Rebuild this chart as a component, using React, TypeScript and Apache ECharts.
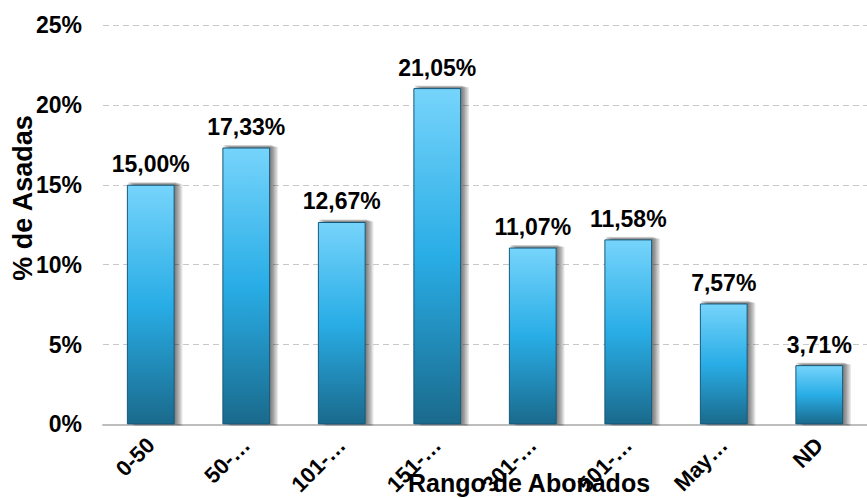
import React, { useEffect, useRef } from "react";
import * as echarts from "echarts";

const categories = ["0-50", "50-…", "101-…", "151-…", "301-…", "501-…", "May…", "ND"];
const values = [15.0, 17.33, 12.67, 21.05, 11.07, 11.58, 7.57, 3.71];
const yTicks = [0, 5, 10, 15, 20, 25];
const xTitle = "Rango de Abonados";
const yTitle = "% de Asadas";

const FONT = "'Liberation Sans', Arial, sans-serif";

export default function App() {
  const ref = useRef<HTMLDivElement>(null);
  useEffect(() => {
    if (!ref.current) return;
    const chart = echarts.init(ref.current, undefined, { renderer: "svg" });
    chart.setOption({
      animation: false,
      backgroundColor: "#ffffff",
      textStyle: { fontFamily: FONT },
      grid: { left: 103, width: 771, top: 25, bottom: 72, containLabel: false },
      xAxis: {
        type: "category",
        data: categories,
        axisLine: { show: true, lineStyle: { color: "#bdbdbd", width: 2 } },
        axisTick: { show: false },
        axisLabel: {
          rotate: 45,
          margin: 17,
          interval: 0,
          color: "#000",
          fontSize: 22,
          fontWeight: "bold",
          fontFamily: FONT,
        },
      },
      yAxis: {
        type: "value",
        min: yTicks[0],
        max: yTicks[yTicks.length - 1],
        interval: 5,
        axisLine: { show: false },
        axisTick: { show: false },
        axisLabel: {
          formatter: "{value}%",
          margin: 21,
          color: "#000",
          fontSize: 23,
          fontWeight: "bold",
          fontFamily: FONT,
        },
        splitLine: { lineStyle: { color: "#c8c8c8", type: [6, 4], width: 1 } },
      },
      series: [
        {
          type: "custom",
          z: 1,
          silent: true,
          data: values.map((v, i) => [i, v]),
          renderItem: (params: any, api: any) => {
            const top = api.coord([api.value(0), api.value(1)]);
            const bottom = api.coord([api.value(0), 0]);
            const w = api.size([1, 0])[0] * 0.5;
            const left = top[0] - w / 2;
            const children = [];
            for (let i = 1; i <= 6; i++) {
              children.push({
                type: "rect",
                shape: { x: left + i * 1.3, y: top[1] - 3 + i * 0.4, width: w, height: bottom[1] - top[1] + 2 },
                style: { fill: "rgba(0,0,0,0.1)" },
              });
            }
            return { type: "group", children };
          },
        },
        {
          type: "bar",
          z: 2,
          data: values,
          barWidth: "50%",
          itemStyle: {
            color: new echarts.graphic.LinearGradient(0, 0, 0, 1, [
              { offset: 0, color: "#76d4fb" },
              { offset: 0.5, color: "#29ade6" },
              { offset: 1, color: "#1a6a8c" },
            ]),
            borderColor: "#17597a",
            borderWidth: 1,
          },
          label: {
            show: true,
            position: "top",
            distance: 9,
            color: "#000",
            fontSize: 23,
            fontWeight: "bold",
            fontFamily: FONT,
            formatter: (p: any) => p.value.toFixed(2).replace(".", ",") + "%",
          },
        },
      ],
      graphic: [
        {
          type: "text",
          x: 529,
          y: 483,
          z: 10,
          style: {
            text: xTitle,
            align: "center",
            verticalAlign: "middle",
            fill: "#000",
            font: `bold 25px ${FONT}`,
          },
        },
        {
          type: "text",
          x: 23,
          y: 198,
          z: 10,
          rotation: Math.PI / 2,
          style: {
            text: yTitle,
            align: "center",
            verticalAlign: "middle",
            fill: "#000",
            font: `bold 27px ${FONT}`,
          },
        },
      ],
    });
    return () => chart.dispose();
  }, []);
  return <div ref={ref} style={{ width: 867, height: 498, position: "fixed", left: 0, top: 0 }} />;
}
